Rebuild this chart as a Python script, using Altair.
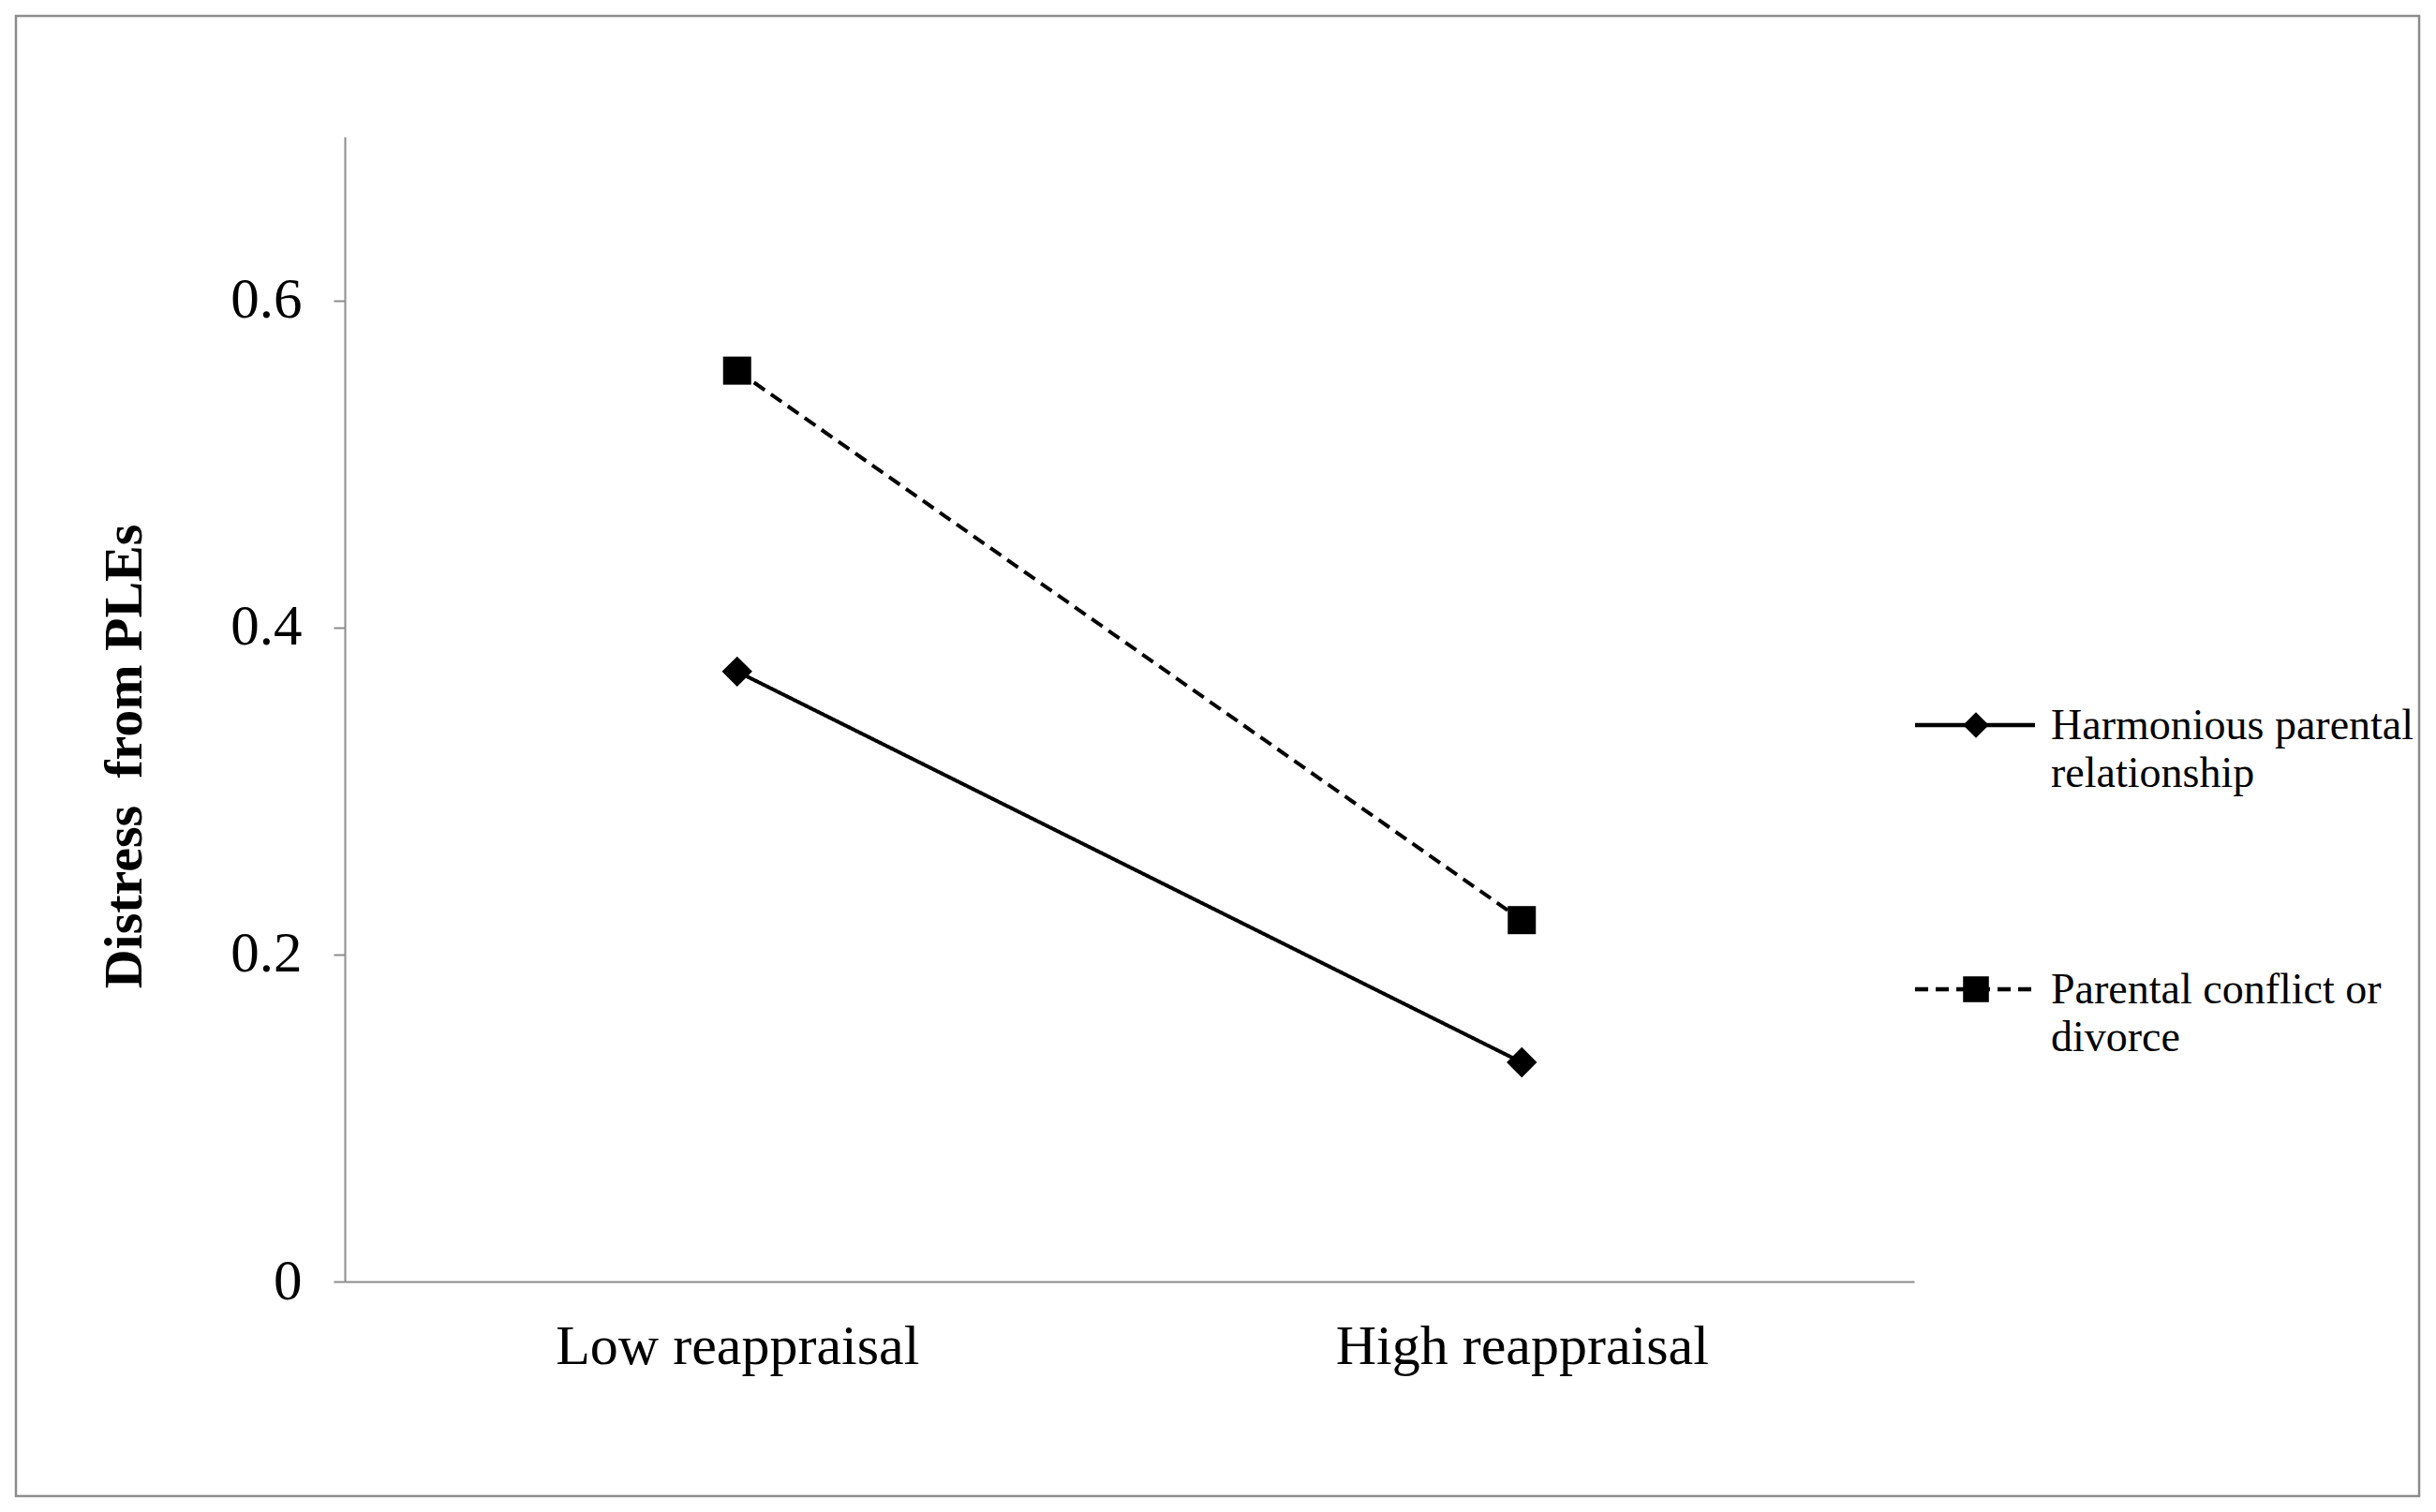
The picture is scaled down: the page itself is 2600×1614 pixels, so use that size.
import altair as alt
import pandas as pd

# ---- data ----
categories = ["Low reappraisal", "High reappraisal"]
series = ["Harmonious parental relationship", "Parental conflict or divorce"]
harmonious = [0.373, 0.134]
conflict = [0.557, 0.221]
y_ticks = [0, 0.2, 0.4, 0.6]
legend_labels = ["Harmonious parental\nrelationship", "Parental conflict or\ndivorce"]

rows = []
for i, c in enumerate(categories):
    rows.append({"cond": c, "series": series[0], "value": harmonious[i]})
    rows.append({"cond": c, "series": series[1], "value": conflict[i]})
df = pd.DataFrame(rows)

W, H = 1675, 1222
FONT = "Liberation Serif"
AX = "#8c8c8c"

x = alt.X(
    "cond:N",
    sort=categories,
    scale=alt.Scale(type="point", padding=0.5),
    axis=alt.Axis(
        title=None, labelAngle=0, ticks=False, domainColor=AX, domainWidth=2,
        labelFont=FONT, labelFontSize=60, labelColor="black", labelPadding=40, labelLimit=0,
    ),
)
y = alt.Y(
    "value:Q",
    scale=alt.Scale(domain=[0, 0.7], nice=False, zero=True),
    axis=alt.Axis(
        title="Distress \u00a0from PLEs", values=y_ticks, format="~g", grid=False,
        domainColor=AX, domainWidth=2, tickColor=AX, tickWidth=2, tickSize=12,
        labelPadding=34, labelFont=FONT, labelFontSize=61, labelColor="black",
        titleFont=FONT, titleFontSize=58, titleFontWeight="bold", titleColor="black",
        titleAngle=270, titleX=-235, titleY=661, titleAlign="center", titleBaseline="middle",
    ),
)
dash = alt.StrokeDash("series:N", scale=alt.Scale(domain=series, range=[[1, 0], [14, 8]]), legend=None)
shape = alt.Shape("series:N", scale=alt.Scale(domain=series, range=["diamond", "square"]), legend=None)
size = alt.Size("series:N", scale=alt.Scale(domain=series, range=[1050, 900]), legend=None)

base = alt.Chart(df)
lines = base.mark_line(color="black", strokeWidth=4).encode(x=x, y=y, strokeDash=dash)
points = base.mark_point(filled=True, color="black", opacity=1, strokeWidth=0).encode(
    x=x, y=y, shape=shape, size=size
)

one = pd.DataFrame({"k": [0]})
border = alt.Chart(one).mark_rect(fillOpacity=0, stroke=AX, strokeWidth=2.5).encode(
    x=alt.value(-351), x2=alt.value(2214), y=alt.value(-129), y2=alt.value(1451)
)

layers = [border, lines, points]
leg_y = [628, 910]
leg_shapes = ["diamond", "square"]
leg_sizes = [760, 760]
leg_dash = [[1, 0], [14, 8]]
for i in range(2):
    ly = leg_y[i]
    layers.append(
        alt.Chart(one).mark_rule(color="black", strokeWidth=4.5, strokeDash=leg_dash[i]).encode(
            x=alt.value(1676), x2=alt.value(1804), y=alt.value(ly)
        )
    )
    layers.append(
        alt.Chart(one).mark_point(shape=leg_shapes[i], filled=True, color="black", opacity=1,
                                  size=leg_sizes[i], strokeWidth=0).encode(
            x=alt.value(1741), y=alt.value(ly)
        )
    )
    layers.append(
        alt.Chart(pd.DataFrame({"label": [legend_labels[i]]})).mark_text(
            align="left", baseline="alphabetic", font=FONT, fontSize=46, color="black",
            lineBreak="\n", lineHeight=51,
        ).encode(text="label:N", x=alt.value(1821), y=alt.value(ly + 15))
    )

chart = alt.layer(*layers).properties(
    width=W, height=H, autosize="none",
    padding={"left": 360, "top": 138, "right": 545, "bottom": 236},
    background="white",
).configure_view(stroke="transparent")

chart.save("out.html", embed_options={"renderer": "svg", "actions": False})
